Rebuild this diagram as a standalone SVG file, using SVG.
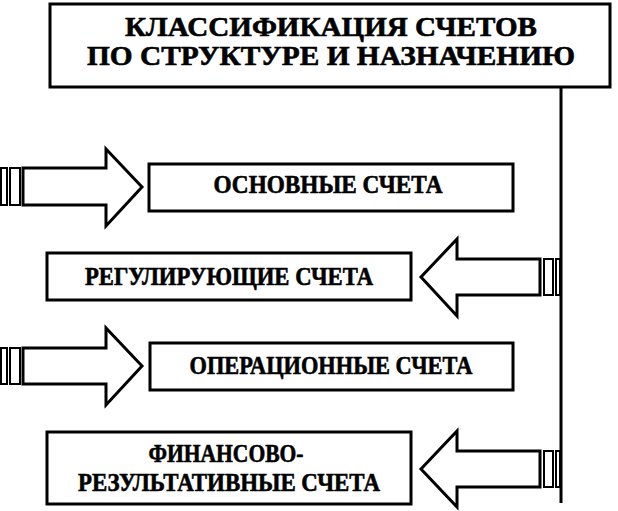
<svg xmlns="http://www.w3.org/2000/svg" width="618" height="511" viewBox="0 0 618 511">
<style>
.box{fill:#fff;stroke:#000;stroke-width:3}
.arr{fill:#fff;stroke:#000;stroke-width:3;stroke-linejoin:miter}
.bar{fill:#fff;stroke:#000;stroke-width:2}
.t{font-family:"Liberation Serif","Times New Roman",serif;font-weight:bold;fill:#000;text-anchor:middle;stroke:#000;stroke-width:0.6}
.tt{font-size:28px}
.tb{font-size:25px}
</style>
<rect width="618" height="511" fill="#fff"/>
<g id="title">
<rect class="box" x="50" y="4" width="560" height="83"/>
<text class="t tt" x="331" y="36" textLength="412" lengthAdjust="spacingAndGlyphs">КЛАССИФИКАЦИЯ СЧЕТОВ</text>
<text class="t tt" x="331" y="65" textLength="488" lengthAdjust="spacingAndGlyphs">ПО СТРУКТУРЕ  И НАЗНАЧЕНИЮ</text>
</g>
<g id="connectors">
<line x1="561" y1="87" x2="561" y2="503" stroke="#000" stroke-width="3"/>
<g id="arrow1">
<rect class="bar" x="1" y="168" width="6" height="37"/>
<rect class="bar" x="10" y="168" width="10" height="37"/>
<polygon class="arr" points="23,168 106,168 106,149 142,187 106,226 106,205 23,205"/>
</g>
<g id="arrow2">
<polygon class="arr" points="540,259 457,259 457,239 421,277 457,316 457,295 540,295"/>
<rect class="bar" x="544" y="259" width="9" height="36"/>
<rect class="bar" x="556" y="259" width="4" height="36"/>
</g>
<g id="arrow3">
<rect class="bar" x="1" y="348" width="6" height="36"/>
<rect class="bar" x="10" y="348" width="10" height="36"/>
<polygon class="arr" points="23,348 106,348 106,328 142,366 106,405 106,384 23,384"/>
</g>
<g id="arrow4">
<polygon class="arr" points="540,451 457,451 457,431 421,469 457,507 457,487 540,487"/>
<rect class="bar" x="544" y="451" width="9" height="36"/>
<rect class="bar" x="556" y="451" width="4" height="36"/>
</g>
</g>
<g id="osnovnye">
<rect class="box" x="149" y="164" width="364" height="47"/>
<text class="t tb" x="328" y="193" textLength="229" lengthAdjust="spacingAndGlyphs">ОСНОВНЫЕ СЧЕТА</text>
</g>
<g id="reguliruyushchie">
<rect class="box" x="47" y="253" width="364" height="47"/>
<text class="t tb" x="229" y="285" textLength="288" lengthAdjust="spacingAndGlyphs">РЕГУЛИРУЮЩИЕ СЧЕТА</text>
</g>
<g id="operatsionnye">
<rect class="box" x="150" y="343" width="363" height="47"/>
<text class="t tb" x="331" y="374" textLength="283" lengthAdjust="spacingAndGlyphs">ОПЕРАЦИОННЫЕ СЧЕТА</text>
</g>
<g id="finansovo">
<rect class="box" x="47" y="432" width="364" height="72"/>
<text class="t tb" x="226" y="462" textLength="155" lengthAdjust="spacingAndGlyphs">ФИНАНСОВО-</text>
<text class="t tb" x="229" y="491" textLength="302" lengthAdjust="spacingAndGlyphs">РЕЗУЛЬТАТИВНЫЕ СЧЕТА</text>
</g>
</svg>
